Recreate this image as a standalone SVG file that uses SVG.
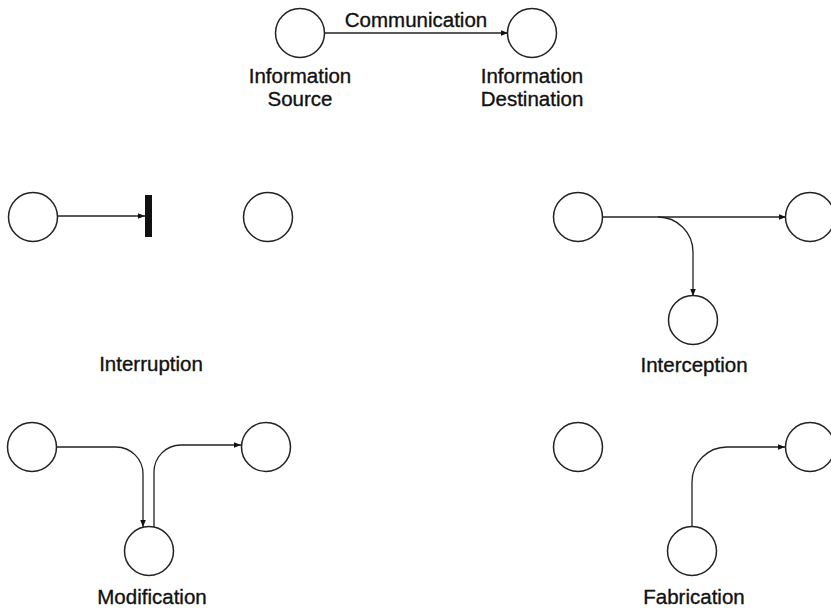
<svg xmlns="http://www.w3.org/2000/svg" width="831" height="608" viewBox="0 0 831 608">
<style>
.n{fill:#fff;stroke:#222;stroke-width:1.5}
.c{fill:none;stroke:#222;stroke-width:1.3}
.t{font-family:"Liberation Sans",Arial,sans-serif;font-size:20.5px;fill:#111;stroke:#111;stroke-width:0.35;text-anchor:middle}
</style>
<defs>
<marker id="ah" viewBox="0 0 10 10" refX="10" refY="5" markerWidth="7" markerHeight="7" markerUnits="userSpaceOnUse" orient="auto">
<path d="M0,1 L10,5 L0,9 z" fill="#111"/>
</marker>
</defs>
<rect width="831" height="608" fill="#fff"/>
<g id="connectors">
<path class="c" d="M324,33 L508,33" marker-end="url(#ah)"/>
<path class="c" d="M58,216 L145,216" marker-end="url(#ah)"/>
<rect x="145" y="195" width="7" height="42" fill="#111"/>
<path class="c" d="M602,217 L786,217" marker-end="url(#ah)"/>
<path class="c" d="M658,217 A35,35 0 0 1 693,252 L693,296" marker-end="url(#ah)"/>
<path class="c" d="M57,447 L116,447 A27,27 0 0 1 143,474 L143,527" marker-end="url(#ah)"/>
<path class="c" d="M154,527 L154,472 A27,27 0 0 1 181,445 L241,445" marker-end="url(#ah)"/>
<path class="c" d="M692,527 L692,482 A35,35 0 0 1 727,447 L785,447" marker-end="url(#ah)"/>
</g>
<g id="comm-src"><circle class="n" cx="300" cy="33" r="24.5"/></g>
<g id="comm-dst"><circle class="n" cx="532" cy="33" r="24.5"/></g>
<g id="comm-label"><text class="t" x="416" y="27">Communication</text></g>
<g id="src-label"><text class="t" x="300" y="83">Information</text><text class="t" x="300" y="106">Source</text></g>
<g id="dst-label"><text class="t" x="532" y="83">Information</text><text class="t" x="532" y="106">Destination</text></g>
<g id="int-src"><circle class="n" cx="33" cy="217" r="24.5"/></g>
<g id="int-dst"><circle class="n" cx="268" cy="217" r="24.5"/></g>
<g id="int-label"><text class="t" x="151" y="371">Interruption</text></g>
<g id="icp-src"><circle class="n" cx="578" cy="217" r="24.5"/></g>
<g id="icp-dst"><circle class="n" cx="810" cy="217" r="24.5"/></g>
<g id="icp-mid"><circle class="n" cx="693" cy="320" r="24.5"/></g>
<g id="icp-label"><text class="t" x="694" y="372">Interception</text></g>
<g id="mod-src"><circle class="n" cx="32" cy="447" r="24.5"/></g>
<g id="mod-dst"><circle class="n" cx="266" cy="447" r="24.5"/></g>
<g id="mod-mid"><circle class="n" cx="149" cy="551" r="24.5"/></g>
<g id="mod-label"><text class="t" x="152" y="604">Modification</text></g>
<g id="fab-src"><circle class="n" cx="578" cy="447" r="24.5"/></g>
<g id="fab-dst"><circle class="n" cx="810" cy="447" r="24.5"/></g>
<g id="fab-mid"><circle class="n" cx="692" cy="551" r="24.5"/></g>
<g id="fab-label"><text class="t" x="694" y="604">Fabrication</text></g>
</svg>
